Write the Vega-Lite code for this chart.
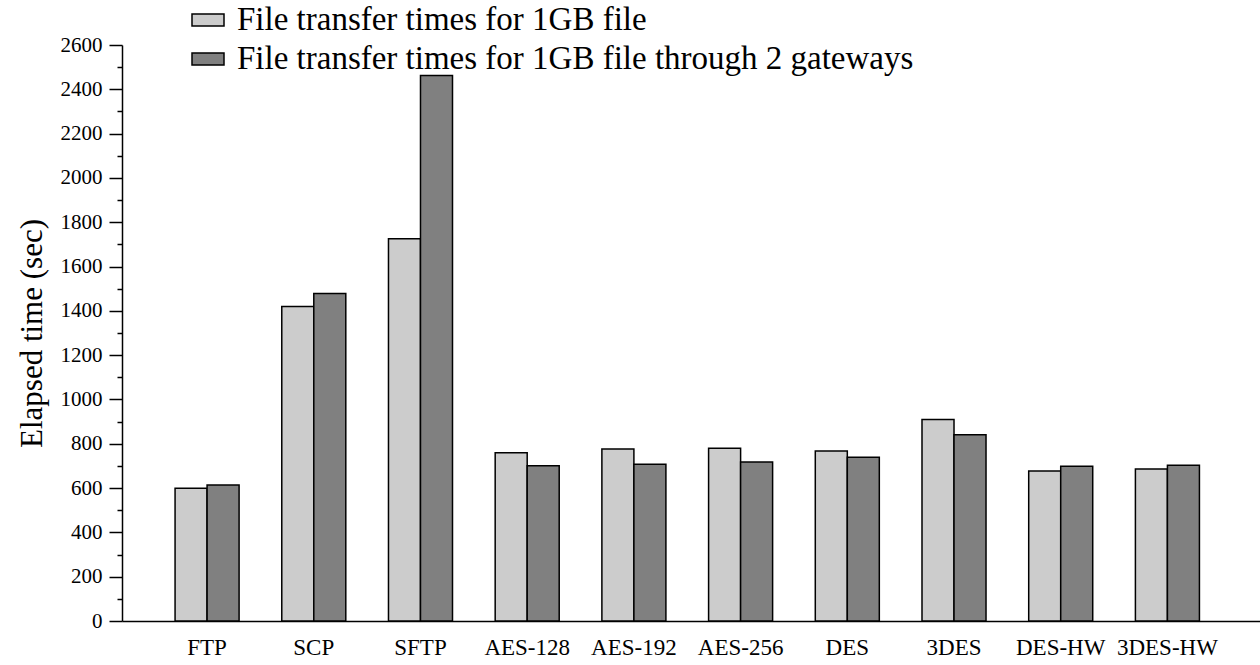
{
  "$schema": "https://vega.github.io/schema/vega-lite/v6.json",
  "width": 1138,
  "height": 576,
  "autosize": {"type": "none"},
  "padding": {"left": 122, "top": 45, "right": 0, "bottom": 44},
  "background": "white",
  "config": {
    "view": {"stroke": null},
    "font": "Liberation Serif",
    "axis": {"grid": false, "domainColor": "black", "tickColor": "black", "labelColor": "black", "titleColor": "black", "labelFont": "Liberation Serif", "titleFont": "Liberation Serif"}
  },
  "data": {
    "values": [
      {"protocol": "FTP", "series": "File transfer times for 1GB file", "time": 599},
      {"protocol": "FTP", "series": "File transfer times for 1GB file through 2 gateways", "time": 614},
      {"protocol": "SCP", "series": "File transfer times for 1GB file", "time": 1420},
      {"protocol": "SCP", "series": "File transfer times for 1GB file through 2 gateways", "time": 1478},
      {"protocol": "SFTP", "series": "File transfer times for 1GB file", "time": 1725},
      {"protocol": "SFTP", "series": "File transfer times for 1GB file through 2 gateways", "time": 2462},
      {"protocol": "AES-128", "series": "File transfer times for 1GB file", "time": 760},
      {"protocol": "AES-128", "series": "File transfer times for 1GB file through 2 gateways", "time": 701},
      {"protocol": "AES-192", "series": "File transfer times for 1GB file", "time": 776},
      {"protocol": "AES-192", "series": "File transfer times for 1GB file through 2 gateways", "time": 707},
      {"protocol": "AES-256", "series": "File transfer times for 1GB file", "time": 780},
      {"protocol": "AES-256", "series": "File transfer times for 1GB file through 2 gateways", "time": 718},
      {"protocol": "DES", "series": "File transfer times for 1GB file", "time": 767},
      {"protocol": "DES", "series": "File transfer times for 1GB file through 2 gateways", "time": 739},
      {"protocol": "3DES", "series": "File transfer times for 1GB file", "time": 909},
      {"protocol": "3DES", "series": "File transfer times for 1GB file through 2 gateways", "time": 841},
      {"protocol": "DES-HW", "series": "File transfer times for 1GB file", "time": 677},
      {"protocol": "DES-HW", "series": "File transfer times for 1GB file through 2 gateways", "time": 698},
      {"protocol": "3DES-HW", "series": "File transfer times for 1GB file", "time": 686},
      {"protocol": "3DES-HW", "series": "File transfer times for 1GB file through 2 gateways", "time": 703}
    ]
  },
  "layer": [
    {
      "mark": {"type": "bar", "stroke": "black", "strokeWidth": 1.5},
      "encoding": {
        "x": {
          "field": "protocol", "type": "nominal",
          "sort": ["FTP", "SCP", "SFTP", "AES-128", "AES-192", "AES-256", "DES", "3DES", "DES-HW", "3DES-HW"],
          "scale": {"paddingInner": 0.4, "paddingOuter": 0.5325, "align": 0.467},
          "axis": {"title": null, "ticks": false, "labelAngle": 0, "labelFontSize": 23, "labelFont": "Liberation Serif", "labelPadding": 15, "domainWidth": 1.5}
        },
        "xOffset": {
          "field": "series", "type": "nominal",
          "sort": ["File transfer times for 1GB file", "File transfer times for 1GB file through 2 gateways"],
          "scale": {"paddingInner": 0, "paddingOuter": 0}
        },
        "y": {
          "field": "time", "type": "quantitative",
          "scale": {"domain": [0, 2600], "nice": false},
          "axis": {
            "title": "Elapsed time (sec)", "titleFontSize": 31, "titleFontWeight": "normal", "titlePadding": 12, "titleFont": "Liberation Serif",
            "values": [0, 200, 400, 600, 800, 1000, 1200, 1400, 1600, 1800, 2000, 2200, 2400, 2600], "format": "d",
            "labelFontSize": 21, "labelFont": "Liberation Serif", "labelPadding": 7, "tickSize": 13, "tickWidth": 1.5, "domainWidth": 1.5, "orient": "left"
          }
        },
        "color": {
          "field": "series", "type": "nominal",
          "scale": {"domain": ["File transfer times for 1GB file", "File transfer times for 1GB file through 2 gateways"], "range": ["#cccccc", "#808080"]},
          "legend": {
            "title": null, "orient": "none", "legendX": 69, "legendY": -42, "padding": 0,
            "labelFontSize": 33, "labelLimit": 1200, "labelOffset": 12, "labelColor": "black", "labelFont": "Liberation Serif",
            "symbolType": "M-1,-0.38H1V0.38H-1Z", "symbolSize": 1024, "symbolStrokeColor": "black", "symbolStrokeWidth": 1.5,
            "rowPadding": 5
          }
        }
      }
    },
    {
      "mark": {"type": "rule", "opacity": 0},
      "encoding": {
        "y": {
          "datum": 0, "type": "quantitative",
          "axis": {
            "orient": "left", "title": null, "labels": false, "domain": false, "tickSize": 5, "tickWidth": 1.5,
            "values": [100, 300, 500, 700, 900, 1100, 1300, 1500, 1700, 1900, 2100, 2300, 2500]
          }
        }
      }
    }
  ],
  "resolve": {"axis": {"y": "independent"}}
}
